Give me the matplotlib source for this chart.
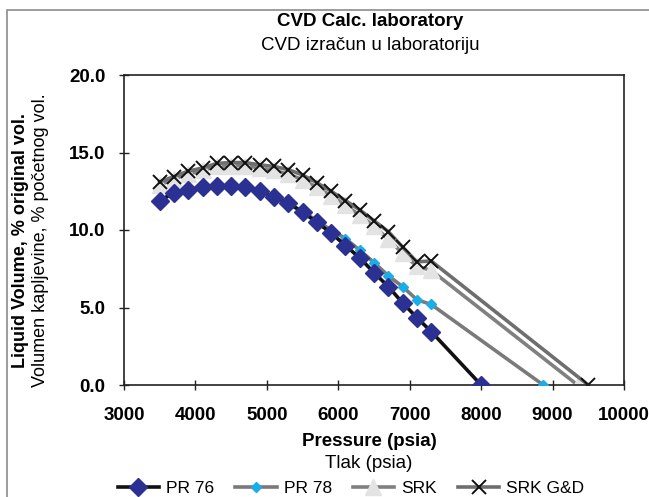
import matplotlib
matplotlib.use("Agg")
import matplotlib.pyplot as plt
from matplotlib.patches import Rectangle

plt.rcParams['font.family'] = ['Liberation Sans', 'DejaVu Sans']

pressure = [3500, 3700, 3900, 4100, 4300, 4500, 4700, 4900, 5100, 5300,
            5500, 5700, 5900, 6100, 6300, 6500, 6700, 6900, 7100, 7300]

pr76_p = pressure + [8000]
pr76_v = [11.9, 12.4, 12.6, 12.75, 12.85, 12.85, 12.8, 12.5, 12.15, 11.75,
          11.15, 10.5, 9.8, 9.0, 8.2, 7.25, 6.35, 5.3, 4.35, 3.45, 0.0]

pr78_p = pressure + [8870]
pr78_v = [11.9, 12.35, 12.6, 12.75, 12.85, 12.85, 12.75, 12.5, 12.15, 11.7,
          11.2, 10.6, 10.0, 9.45, 8.7, 7.9, 7.05, 6.35, 5.5, 5.2, 0.0]

srk_p = pressure + [9350]
srk_v = [12.9, 13.3, 13.6, 13.85, 14.1, 14.15, 14.15, 14.0, 13.85, 13.6,
         13.25, 12.75, 12.2, 11.6, 10.95, 10.25, 9.4, 8.5, 7.65, 7.4, 0.0]

srkgd_p = pressure + [9500]
srkgd_v = [13.1, 13.45, 13.8, 14.0, 14.3, 14.35, 14.35, 14.2, 14.1, 13.9,
           13.55, 13.05, 12.5, 11.9, 11.3, 10.6, 9.9, 8.9, 7.95, 8.0, 0.0]

x_ticks = [3000, 4000, 5000, 6000, 7000, 8000, 9000, 10000]
y_ticks = [0.0, 5.0, 10.0, 15.0, 20.0]

W, H = 649, 497
FS = 13.5
fig = plt.figure(figsize=(W / 100, H / 100), dpi=100)
ax = fig.add_axes([124 / W, 1 - 385 / H, 500 / W, 310 / H])

ax.plot(srkgd_p, srkgd_v, color='#6e6e6e', lw=2.6, marker='x', ms=10,
        mec='#111111', mew=1.4, label='SRK G&D', zorder=2)
ax.plot(srk_p, srk_v, color='#808080', lw=2.6, marker='^', ms=11,
        mfc='#e3e3e3', mec='#e3e3e3', label='SRK', zorder=1)
ax.plot(pr78_p, pr78_v, color='#7a7a7a', lw=2.6, marker='D', ms=5,
        mfc='#1aaee8', mec='#1aaee8', label='PR 78', zorder=3)
ax.plot(pr76_p, pr76_v, color='#111111', lw=2.6, marker='D', ms=9,
        mfc='#2b3192', mec='#2b3192', label='PR 76', zorder=4)

ax.set_xlim(3000, 10000)
ax.set_ylim(0, 20)
ax.set_xticks(x_ticks)
ax.set_yticks(y_ticks)
ax.set_xticklabels([str(t) for t in x_ticks], fontsize=FS, fontweight='bold')
ax.set_yticklabels([f"{t:.1f}" for t in y_ticks], fontsize=FS, fontweight='bold')
ax.tick_params(axis='both', direction='inout', length=7, width=1, color='#222222')
ax.tick_params(axis='y', pad=10)
ax.tick_params(axis='x', pad=12)
for s in ax.spines.values():
    s.set_color('#222222')
    s.set_linewidth(1.2)

# Titles
cx = 370 / W
fig.text(cx, 1 - 22 / H, 'CVD Calc. laboratory', ha='center', va='center',
         fontsize=FS, fontweight='bold')
fig.text(cx, 1 - 46 / H, 'CVD izračun u laboratoriju', ha='center', va='center',
         fontsize=FS)

# Axis labels
fig.text(21 / W, 1 - 240 / H, 'Liquid Volume, % original vol.', rotation=90,
         ha='center', va='center', fontsize=13, fontweight='bold')
fig.text(41 / W, 1 - 240 / H, 'Volumen kapljevine, % početnog vol.', rotation=90,
         ha='center', va='center', fontsize=13)
fig.text(369 / W, 1 - 441 / H, 'Pressure (psia)', ha='center', va='center',
         fontsize=FS, fontweight='bold')
fig.text(369 / W, 1 - 463 / H, 'Tlak (psia)', ha='center', va='center', fontsize=FS)

# Legend
handles, labels = ax.get_legend_handles_labels()
order = [labels.index(l) for l in ['PR 76', 'PR 78', 'SRK', 'SRK G&D']]
fig.legend([handles[i] for i in order], [labels[i] for i in order],
           loc='center', bbox_to_anchor=(351 / W, 1 - 488 / H), ncol=4,
           frameon=False, fontsize=12.5, handlelength=2.4, columnspacing=1.2,
           handletextpad=0.4, borderpad=0)

# Outer border
fig.patches.append(Rectangle((7 / W, -0.1), 1.2, (1 - 10 / H) + 0.1,
                             transform=fig.transFigure, fill=False,
                             edgecolor='#8c8c8c', lw=1.2))

fig.savefig('out.png', dpi=100)
